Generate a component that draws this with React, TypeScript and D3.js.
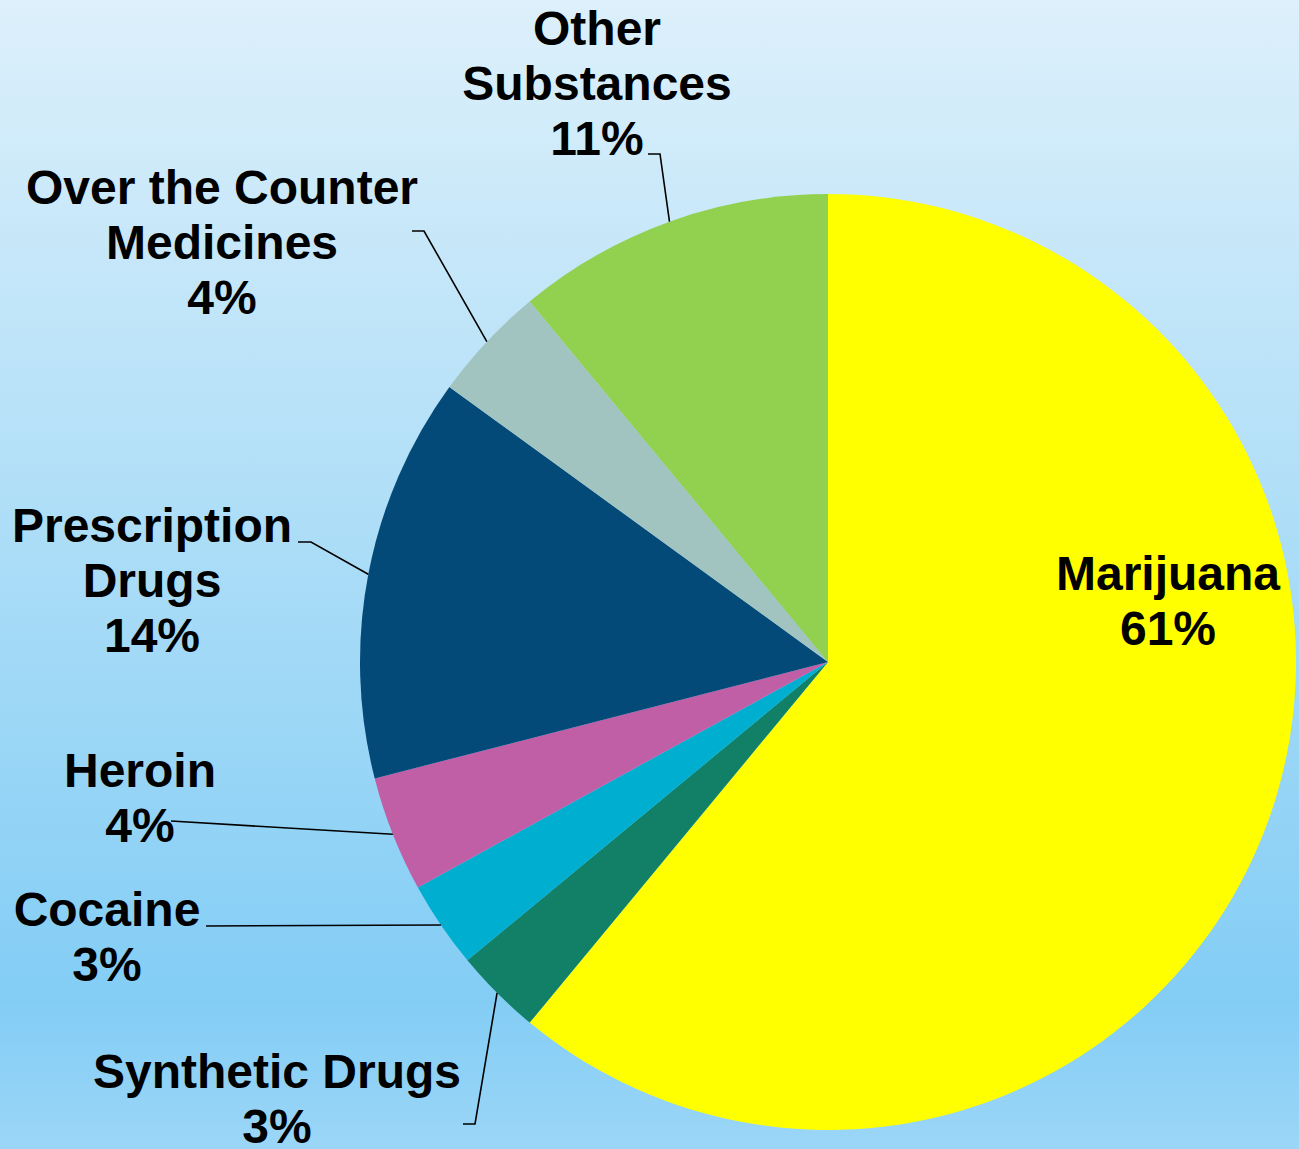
import React, { useEffect } from "react";
import * as d3 from "d3";

const categories = [
  "Marijuana",
  "Synthetic Drugs",
  "Cocaine",
  "Heroin",
  "Prescription Drugs",
  "Over the Counter Medicines",
  "Other Substances",
];
const values = [61, 3, 3, 4, 14, 4, 11];
const colors = ["#FFFF00", "#128066", "#00AED0", "#C15FA6", "#044A78", "#A2C4C0", "#92D050"];
const labelLines = [
  ["Marijuana", "61%"],
  ["Synthetic Drugs", "3%"],
  ["Cocaine", "3%"],
  ["Heroin", "4%"],
  ["Prescription", "Drugs", "14%"],
  ["Over the Counter", "Medicines", "4%"],
  ["Other", "Substances", "11%"],
];

// layout (label placement): x center, first baseline; leader elbow start/end
const labelLayout = [
  { x: 1168, y: 590, leader: null },
  { x: 277, y: 1088, leader: [[463, 1124], [475, 1124]] },
  { x: 107, y: 926, leader: [[206, 926]] },
  { x: 140, y: 787, leader: [[171, 821]] },
  { x: 152, y: 542, leader: [[298, 542], [311, 542]] },
  { x: 222, y: 204, leader: [[412, 231], [424, 231]] },
  { x: 597, y: 45, leader: [[648, 154], [660, 154]] },
];

const W = 1299;
const H = 1149;
const CX = 828;
const CY = 662;
const R = 468;
const LINE_H = 55;

export default function App() {
  useEffect(() => {
    document.body.style.margin = "0";
  }, []);

  const pie = d3.pie<number>().sort(null).value((d) => d);
  const arcs = pie(values);
  const arcGen = d3.arc<d3.PieArcDatum<number>>().innerRadius(0).outerRadius(R);

  return (
    <svg width={W} height={H} style={{ display: "block" }} fontFamily="'Liberation Sans', Arial, sans-serif">
      <defs>
        <linearGradient id="bg" x1="0" y1="0" x2="0" y2="1">
          <stop offset="0" stopColor="#ddf0fb" />
          <stop offset="0.5" stopColor="#a9dcf7" />
          <stop offset="0.87" stopColor="#83cdf5" />
          <stop offset="1" stopColor="#9bd6f7" />
        </linearGradient>
      </defs>
      <rect x={0} y={0} width={W} height={H} fill="url(#bg)" />
      <g transform={`translate(${CX},${CY})`}>
        {arcs.map((a, i) => (
          <path key={i} d={arcGen(a) || ""} fill={colors[i]} />
        ))}
      </g>
      {arcs.map((a, i) => {
        const lay = labelLayout[i];
        if (!lay.leader) return null;
        const mid = (a.startAngle + a.endAngle) / 2;
        const ex = CX + R * Math.sin(mid);
        const ey = CY - R * Math.cos(mid);
        const pts = [...lay.leader, [ex, ey]];
        return (
          <polyline
            key={"l" + i}
            points={pts.map((p) => p.join(",")).join(" ")}
            fill="none"
            stroke="#000"
            strokeWidth={1.6}
          />
        );
      })}
      {labelLines.map((lines, i) => {
        const lay = labelLayout[i];
        return (
          <text
            key={"t" + i}
            x={lay.x}
            y={lay.y}
            textAnchor="middle"
            fontSize={48}
            fontWeight="bold"
            fill="#000"
          >
            {lines.map((ln, j) => (
              <tspan key={j} x={lay.x} y={lay.y + j * LINE_H}>
                {ln}
              </tspan>
            ))}
          </text>
        );
      })}
    </svg>
  );
}
